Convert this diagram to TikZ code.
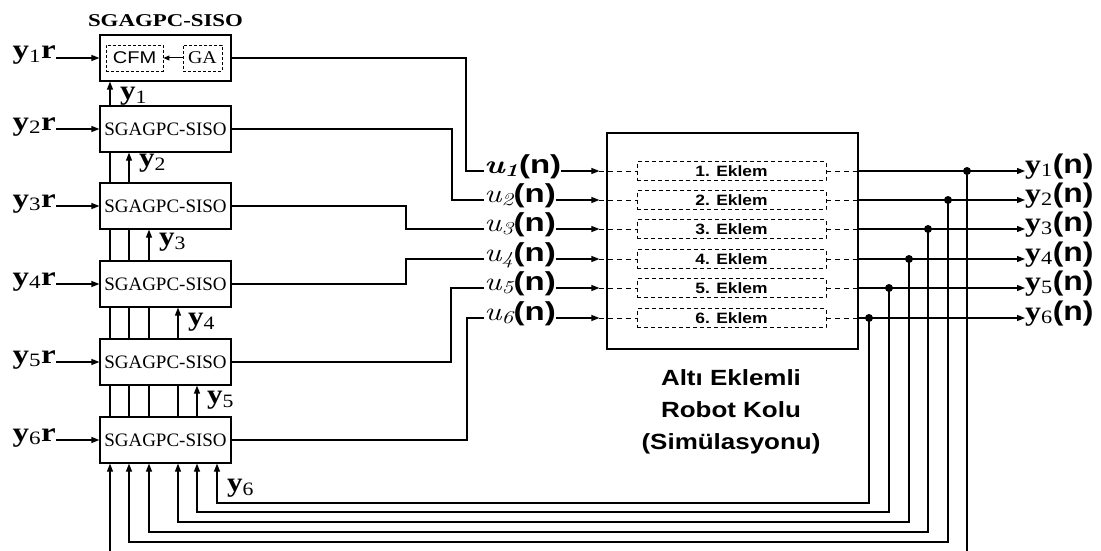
\documentclass[tikz,border=0pt]{standalone}
\usepackage{fontspec}
\setmainfont{Liberation Serif}
\setsansfont{Liberation Sans}
\newfontfamily\lmfont{Latin Modern Roman}
\usetikzlibrary{arrows.meta,positioning,backgrounds}

\newcommand{\hs}[2][1.18]{\scalebox{#1}[1]{#2}}

\tikzset{
  blk/.style={draw, line width=1.2pt, fill=white, minimum width=131pt, minimum height=46pt,
    inner sep=0pt, font=\fontsize{19}{22}\selectfont},
  sub/.style={draw, densely dashed, line width=0.8pt, inner sep=0pt, minimum height=26pt},
  ekl/.style={draw, dash pattern=on 4pt off 3pt, line width=0.8pt, minimum width=189pt,
    minimum height=19pt, inner sep=0pt, font=\sffamily\bfseries\fontsize{15}{17}\selectfont},
  sig/.style={inner sep=0pt, font=\bfseries\fontsize{27}{29}\selectfont},
  uin/.style={inner sep=0pt, font=\fontsize{26}{28}\selectfont},
  wire/.style={line width=1.2pt},
  arr/.style={wire, -{Triangle[length=8pt,width=6pt]}},
  dsh/.style={line width=1pt, dash pattern=on 5pt off 4pt},
  dot/.style={circle, fill, inner sep=0pt, minimum size=8pt},
}

\begin{document}
\begin{tikzpicture}[x=1pt, y=-1pt]
  \useasboundingbox (0,0) rectangle (1101,551);
  \clip (0,0) rectangle (1101,551);

  % controller stack
  \foreach \i/\y in {1/58,2/129,3/206,4/284,5/362,6/440}{
    \node[blk] (c\i) at (165.5,\y) {\ifnum\i>1 SGAGPC-SISO\fi};
    \node[sig, anchor=base east] (r\i) at (56,\y+1) {\hs[1.22]{y\textsubscript{\mdseries\i}r}};
    \draw[arr] (r\i.east |- c\i) -- (c\i);
  }
  \node[inner sep=0pt, above=8pt of c1, font=\bfseries\fontsize{18}{20}\selectfont] (ttl)
    {\hs[1.27]{SGAGPC-SISO}};
  \node[sub, minimum width=57pt, font=\sffamily\fontsize{17}{19}\selectfont] (cfm) at (134.5,58) {\hs{CFM}};
  \node[sub, minimum width=39pt, font=\fontsize{18}{20}\selectfont] (ga) at (202.5,58) {\hs[1.1]{GA}};
  \draw[line width=1pt, -{Triangle[length=6pt,width=5pt]}] (ga) -- (cfm);

  % robot arm
  \node[draw, line width=1.2pt, minimum width=251pt, minimum height=216pt, inner sep=0pt] (rb) at (732.5,241) {};
  \node[align=center, font=\sffamily\bfseries\fontsize{22}{32}\selectfont] (rt) at (731,412)
    {\hs{Altı Eklemli}\\\hs{Robot Kolu}\\\hs{(Simülasyonu)}};

  \foreach \i/\y/\xd/\xt in {1/171/967/466, 2/200/948/452, 3/229/928/406,
                             4/259/909/406, 5/288/889/451, 6/318/869/467}{
    \node[ekl] (e\i) at (731.5,\y) {\hs[1.16]{\i. Eklem}};
    \node[uin, anchor=base west] (u\i) at (484,\y+2)
      {\hs[1.27]{{\lmfont\itshape\ifnum\i=1 \bfseries\fi u\textsubscript{\i}}{\sffamily\bfseries(n)}}};
    \coordinate (w\i) at (\xt,\y);
    \draw[wire] (c\i.east) -| (w\i) -- (w\i -| u\i.west);
    \coordinate (a\i) at ([xshift=-7pt]rb.west |- w\i);
    \coordinate (b\i) at (rb.east |- w\i);
    \draw[arr] (u\i.east |- w\i) -- (a\i);
    \draw[dsh] (a\i) -- (e\i);
    \draw[dsh] (e\i) -- (b\i);
    \node[sig, anchor=base west] (o\i) at (1025,\y+2) {\hs{y\textsubscript{\mdseries\i}{\sffamily(n)}}};
    \draw[arr] (b\i) -- (o\i.west |- w\i);
    \node[dot] (d\i) at (\xd,\y) {};
  }

  % feedback
  \foreach \i/\x/\yf in {1/110/560, 2/129/542, 3/149/532, 4/178/522, 5/197/512, 6/217/503}
    \draw[arr] (d\i.center) |- (\x,\yf) -- (\x,0 |- c6.south);

  \begin{pgfonlayer}{background}
    \foreach \k/\x in {1/110,2/129,3/149,4/178,5/197}
      \draw[arr] (\x,0 |- c6.north) -- (\x,0 |- c\k.south);
  \end{pgfonlayer}

  \foreach \k/\x/\yl in {1/110/96, 2/129/163, 3/149/242, 4/178/322, 5/197/400, 6/217/488}
    \node[sig, anchor=west] (l\k) at (\x+10,\yl) {\hs[1.15]{y\textsubscript{\mdseries\k}}};
\end{tikzpicture}
\end{document}
